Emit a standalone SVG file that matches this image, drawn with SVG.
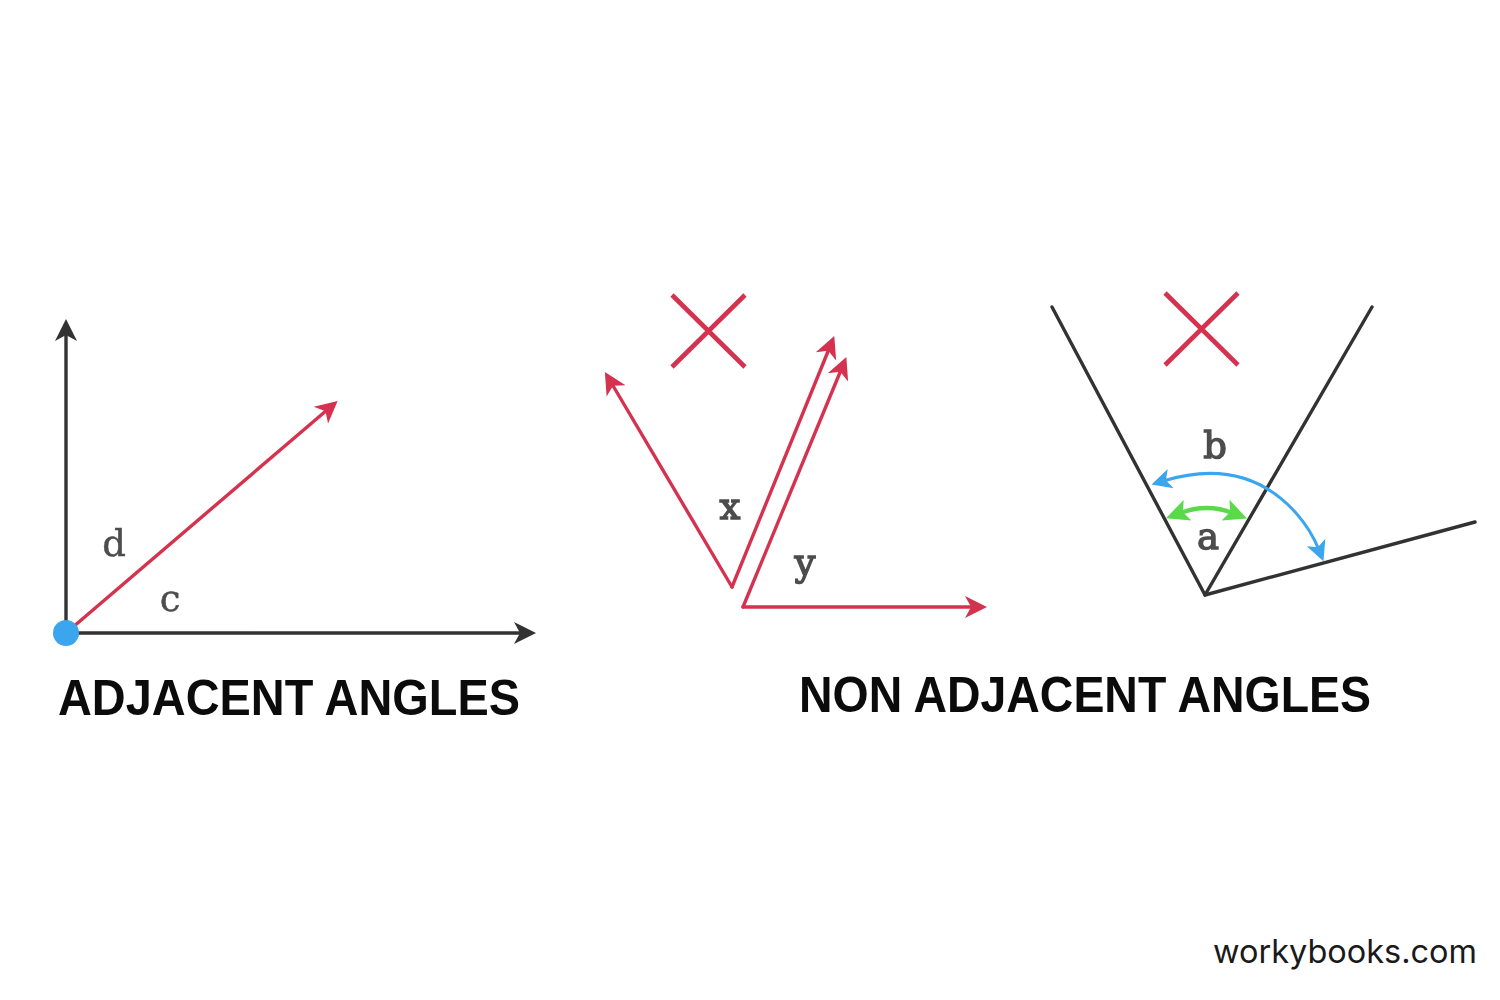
<svg xmlns="http://www.w3.org/2000/svg" width="1500" height="1000" viewBox="0 0 1500 1000">
<style>
.blk{fill:none;stroke:#333;stroke-width:3.4;stroke-linecap:round;stroke-linejoin:round}
.red{fill:none;stroke:#d5334f;stroke-width:3.4;stroke-linecap:round;stroke-linejoin:round}
.x{fill:none;stroke:#d5334f;stroke-width:4.6;stroke-linecap:butt}
.blu{fill:none;stroke:#3aa5ee;stroke-width:3}
.grn{fill:none;stroke:#5ada4a;stroke-width:4.4}
.soft{filter:url(#soft)}
.lbl{font-family:"DejaVu Serif",serif;font-size:37px;fill:#4d4d4d;stroke:#4d4d4d;stroke-width:.5;text-anchor:middle}
.hv{stroke-width:1.4}
.ttl{font-family:"Liberation Sans",Arial,sans-serif;font-weight:700;font-size:50px;fill:#0b0b0b}
.brand{font-family:Inter,"Noto Sans",sans-serif;font-size:32px;fill:#1a1a1a}
</style>
<defs>
<filter id="soft" x="-5%" y="-5%" width="110%" height="110%"><feGaussianBlur stdDeviation="0.55"/></filter>
<marker id="aBlk" markerUnits="userSpaceOnUse" markerWidth="24" markerHeight="26" refX="8" refY="12" orient="auto"><path d="M0,1 L22,12 L0,23 L6,12 Z" fill="#333"/></marker>
<marker id="aRed" markerUnits="userSpaceOnUse" markerWidth="24" markerHeight="26" refX="8" refY="12" orient="auto"><path d="M0,1 L22,12 L0,23 L6,12 Z" fill="#d5334f"/></marker>
<marker id="aBlu" markerUnits="userSpaceOnUse" markerWidth="24" markerHeight="26" refX="8" refY="12" orient="auto-start-reverse"><path d="M0,2 L20,12 L0,22 L5,12 Z" fill="#3aa5ee"/></marker>
<marker id="aGrn" markerUnits="userSpaceOnUse" markerWidth="26" markerHeight="26" refX="8" refY="12" orient="auto-start-reverse"><path d="M0,1 L23,12 L0,23 L5,12 Z" fill="#5ada4a"/></marker>
</defs>
<rect width="1500" height="1000" fill="#fff"/>
<g id="connectors" class="soft">
<path class="blk" d="M66,633 L66,333" marker-end="url(#aBlk)"/>
<path class="blk" d="M66,633 L522,633" marker-end="url(#aBlk)"/>
<path class="red" d="M66,633 L327,410" marker-end="url(#aRed)"/>
<path class="red" d="M732,587 L612,384" marker-end="url(#aRed)"/>
<path class="red" d="M732,587 L829,349" marker-end="url(#aRed)"/>
<path class="red" d="M743,607 L841,370" marker-end="url(#aRed)"/>
<path class="red" d="M743,607 L973,607" marker-end="url(#aRed)"/>
<path class="blk" d="M1052,307 L1205,595 L1372,307"/>
<path class="blk" d="M1205,595 L1475,522"/>
<path class="blu" d="M1163,481 Q1245,456 1296,513 Q1311,530 1319,550" marker-start="url(#aBlu)" marker-end="url(#aBlu)"/>
<path class="grn" d="M1180,513 Q1207,503 1233,513" marker-start="url(#aGrn)" marker-end="url(#aGrn)"/>
</g>
<g id="node-dot" class="soft"><circle cx="66" cy="633" r="13" fill="#3aa5ee"/></g>
<g id="cross-1" class="soft"><path class="x" d="M672,295 L745,367 M745,295 L672,367"/></g>
<g id="cross-2" class="soft"><path class="x" d="M1165,293 L1238,365 M1238,293 L1165,365"/></g>
<g id="labels" class="soft">
<text class="lbl" x="114" y="556">d</text>
<text class="lbl" x="170" y="611">c</text>
<text class="lbl hv" x="730" y="519">x</text>
<text class="lbl hv" x="805" y="575">y</text>
<text class="lbl hv" x="1215" y="458">b</text>
<text class="lbl hv" x="1208" y="549">a</text>
</g>
<g id="titles">
<text class="ttl" x="58" y="715" textLength="462" lengthAdjust="spacingAndGlyphs">ADJACENT ANGLES</text>
<text class="ttl" x="799" y="711.5" textLength="572" lengthAdjust="spacingAndGlyphs">NON ADJACENT ANGLES</text>
<text class="brand" x="1213" y="963" textLength="264" lengthAdjust="spacingAndGlyphs">workybooks.com</text>
</g>
</svg>
